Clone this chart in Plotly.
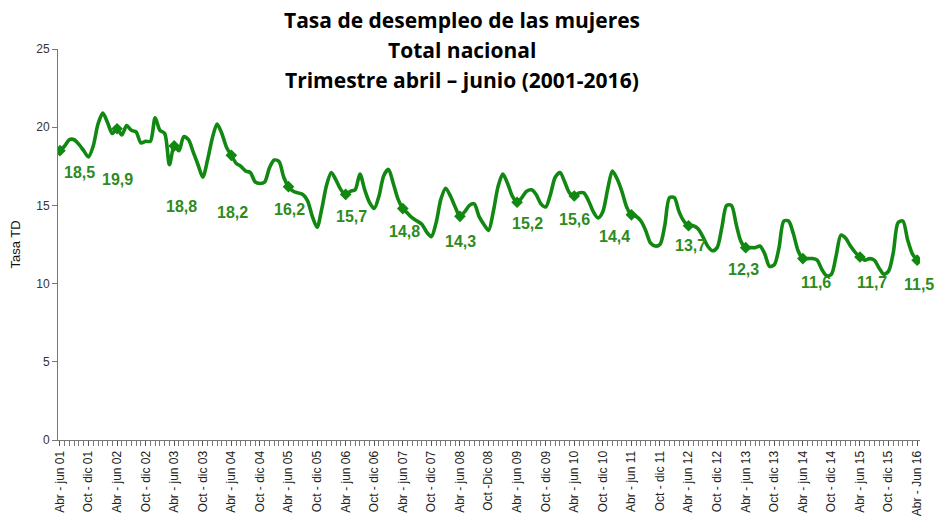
import plotly.graph_objects as go

# Monthly rolling quarters, Abr-jun 2001 .. Abr-jun 2016 (181 points)
tasa = [
    # 2001-02
    18.5, 18.8, 19.2, 19.2, 18.9, 18.5, 18.1, 18.8, 20.2, 20.9, 20.3, 19.6,
    # 2002-03
    19.9, 19.5, 20.1, 19.8, 19.7, 19.0, 19.1, 19.1, 20.6, 19.8, 19.6, 17.6,
    # 2003-04
    18.8, 18.5, 19.4, 19.2, 18.4, 17.6, 16.8, 17.9, 19.3, 20.2, 19.6, 18.7,
    # 2004-05
    18.2, 17.7, 17.5, 17.2, 17.1, 16.5, 16.4, 16.5, 17.4, 17.9, 17.8, 16.8,
    # 2005-06
    16.2, 15.9, 15.8, 15.7, 15.3, 14.3, 13.6, 14.8, 16.3, 17.1, 16.6, 16.0,
    # 2006-07
    15.7, 15.9, 16.0, 17.0, 16.0, 15.2, 14.8, 15.6, 16.9, 17.3, 16.4, 15.4,
    # 2007-08
    14.8, 14.5, 14.2, 14.0, 13.8, 13.3, 13.0, 13.9, 15.4, 16.1, 15.6, 14.9,
    # 2008-09
    14.3, 14.6, 15.0, 15.1, 14.3, 13.8, 13.4, 14.6, 16.2, 17.0, 16.4, 15.6,
    # 2009-10
    15.2, 15.5, 15.9, 16.0, 15.7, 15.1, 14.9, 15.7, 16.8, 17.1, 16.5, 15.8,
    # 2010-11
    15.6, 15.8, 15.8, 15.3, 14.6, 14.2, 14.6, 16.0, 17.2, 16.7, 15.9, 14.9,
    # 2011-12
    14.4, 14.3, 14.0, 13.4, 12.6, 12.4, 12.5, 13.7, 15.5, 15.5, 14.6, 14.0,
    # 2012-13
    13.7, 13.7, 13.5, 13.0, 12.4, 12.1, 12.3, 13.6, 15.0, 15.0, 13.8, 12.7,
    # 2013-14
    12.3, 12.3, 12.3, 12.4, 11.9, 11.1, 11.2, 12.3, 14.0, 14.0, 13.2, 12.1,
    # 2014-15
    11.6, 11.6, 11.6, 11.5, 10.9, 10.5, 10.6, 11.8, 13.1, 12.9, 12.4, 12.0,
    # 2015-16
    11.7, 11.5, 11.6, 11.5, 11.0, 10.6, 10.8, 12.0, 13.9, 14.0, 12.8, 11.9,
    # 2016
    11.5,
]

tick_labels = [
    "Abr - jun 01", "Oct - dic 01", "Abr - jun 02", "Oct - dic 02",
    "Abr - jun 03", "Oct - dic 03", "Abr - jun 04", "Oct - dic 04",
    "Abr - jun 05", "Oct - dic 05", "Abr - jun 06", "Oct - dic 06",
    "Abr - jun 07", "Oct - dic 07", "Abr - jun 08", "Oct -Dic 08",
    "Abr - jun 09", "Oct - dic 09", "Abr - jun 10", "Oct - dic 10",
    "Abr - jun 11", "Oct - dic 11", "Abr - jun 12", "Oct - dic 12",
    "Abr - jun 13", "Oct - dic 13", "Abr - jun 14", "Oct - dic 14",
    "Abr - jun 15", "Oct - dic 15", "Abr - Jun 16",
]

title_lines = [
    "Tasa de desempleo de las mujeres",
    "Total nacional",
    "Trimestre abril – junio (2001-2016)",
]

# Style: label offsets (px right, px down) for the Abr-jun value labels
label_offsets = [
    (20, 22), (0, 51), (7, 61), (1, 57), (1, 23), (6, 22), (2, 23), (1, 25),
    (10, 21), (0, 23), (-17, 22), (2, 20), (-2, 22), (13, 24), (12, 25), (2, 24),
]
# Style: vertical offsets (px above plot top) of the title lines
title_shifts = [29, -1, -31]

x = list(range(len(tasa)))
marker_idx = list(range(0, len(tasa), 12))

LINE = "#118811"
LABEL = "#2E8B1E"

fig = go.Figure()
fig.add_trace(go.Scatter(
    x=x, y=tasa, mode="lines",
    line=dict(color=LINE, width=3.6, shape="spline", smoothing=0.8),
    hoverinfo="skip", showlegend=False,
))
fig.add_trace(go.Scatter(
    x=marker_idx, y=[tasa[i] for i in marker_idx], mode="markers",
    marker=dict(symbol="diamond", size=9, color=LINE),
    showlegend=False,
))

for k, i in enumerate(marker_idx):
    dx, dy = label_offsets[k]
    fig.add_annotation(
        x=i, y=tasa[i], text=f"{tasa[i]:.1f}".replace(".", ","),
        showarrow=False, xshift=dx, yshift=-dy,
        font=dict(family="Liberation Sans, Arial", size=16, color=LABEL, weight="bold"),
    )

# Title lines as paper annotations (they overlap the top of the plot area as in the reference)
for line, sh in zip(title_lines, title_shifts):
    fig.add_annotation(
        text=line, xref="paper", yref="paper",
        x=0.469, y=1, xanchor="center", yanchor="middle", yshift=sh,
        showarrow=False,
        font=dict(family="Open Sans", size=21, color="black", weight="bold"),
    )

fig.update_layout(
    width=935, height=521,
    margin=dict(l=58, r=15, t=49, b=81, autoexpand=False),
    paper_bgcolor="white", plot_bgcolor="white",
    font=dict(family="Liberation Sans, Arial", color="#222"),
)

fig.update_xaxes(
    range=[-0.4, 180.6], automargin=False,
    tickmode="array", tickvals=list(range(0, 181, 6)), ticktext=tick_labels,
    tickangle=-90, tickfont=dict(size=12, color="#222"),
    ticks="outside", ticklen=5, tickcolor="#555",
    minor=dict(tickmode="linear", tick0=0, dtick=1, ticks="outside", ticklen=5, tickcolor="#777", showgrid=False),
    showline=True, linecolor="#777", linewidth=1,
    showgrid=False, zeroline=False,
)
fig.update_yaxes(
    range=[0, 25], tickmode="linear", tick0=0, dtick=5, automargin=False,
    tickfont=dict(size=12, color="#333"),
    ticks="outside", ticklen=5, tickcolor="#777",
    showline=True, linecolor="#777", linewidth=1,
    showgrid=False, zeroline=False,
    title=dict(text="Tasa TD", font=dict(size=13, color="#111"), standoff=12),
)

fig.write_html(
    "out.html",
    config={"displayModeBar": False},
    post_script="document.body.style.margin='0';document.body.style.padding='0';",
)
